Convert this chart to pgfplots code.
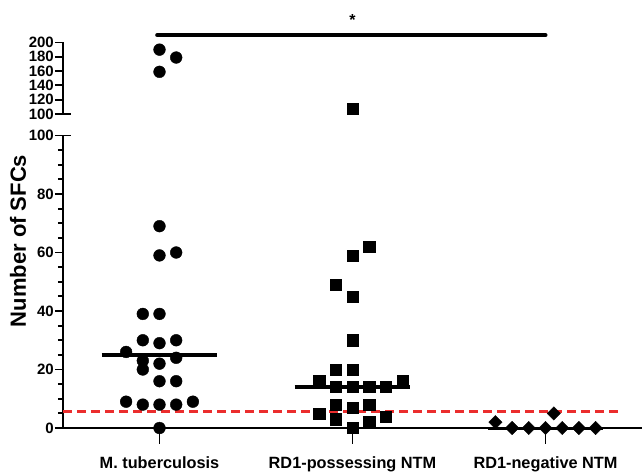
\documentclass[border=0pt]{standalone}
\usepackage{fontspec}
\setmainfont{Liberation Sans}
\usepackage{pgfplots}
\pgfplotsset{compat=1.18}
\definecolor{dashred}{RGB}{235,45,45}
\pgfplotsset{
  common/.style={
    scale only axis, width=579pt, xmin=-0.5, xmax=2.5, clip=false,
    axis line style={line width=2pt, black},
    every tick/.style={line width=1.8pt, black},
    tick align=outside,
    major tick length=8pt, minor tick length=5pt,
    /pgf/number format/assume math mode=true,
    yticklabel style={font=\fontsize{15}{18}\selectfont\bfseries, inner sep=1pt},
    xticklabel style={font=\fontsize{16.3}{19}\selectfont\bfseries, yshift=-17pt},
    extra y tick style={tick align=center, major tick length=15pt},
  },
  circ/.style={only marks, mark=*, mark size=5.9pt, black},
  sq/.style={only marks, mark=square*, mark size=5.6pt, black},
  dia/.style={only marks, mark=square*, mark size=4.7pt, mark options={rotate=45}, black},
}
\begin{document}
\begin{tikzpicture}
\useasboundingbox (-63pt,-44pt) rectangle (579pt,428pt);
% lower segment
\begin{axis}[common, at={(0pt,0pt)}, anchor=south west, height=292.5pt,
  ymin=0, ymax=100, axis x line*=bottom, axis y line*=left,
  ytick={0,20,...,100}, minor y tick num=3,
  extra y ticks={100}, extra y tick labels={},
  xtick={0,1,2},
  xticklabels={M. tuberculosis, RD1-possessing NTM, RD1-negative NTM},
  xtick style={draw=none},
]
\addplot[circ] coordinates {
(0,69) (0,59) (0.0865,60) (-0.0865,39) (0,39) (-0.0865,30) (0,29) (0.0865,30)
(-0.173,26) (-0.0865,23) (0.0865,24) (-0.0865,20) (0,22) (0,16) (0.0865,16)
(-0.173,9) (0.173,9) (-0.0865,8) (0,8) (0.0865,8) (0,0)};
\addplot[sq] coordinates {
(1.0865,62) (1,59) (0.9135,49) (1,45) (1,30) (0.9135,20) (1,20) (0.827,16) (1.2595,16)
(0.9135,14) (1,14) (1.0865,14) (1.173,14) (0.9135,8) (1,7) (1.0865,8) (0.827,5)
(0.9135,3) (1.0865,2) (1.173,4) (1,0)};
\addplot[dia] coordinates {
(1.7405,2) (1.827,0) (1.9135,0) (2,0) (2.0865,0) (2.173,0) (2.2595,0) (2.043,5)};
\addplot[black, line width=3.5pt] coordinates {(-0.3,25) (0.3,25)};
\addplot[black, line width=3.5pt] coordinates {(0.7,14) (1.3,14)};
\addplot[black, line width=3pt] coordinates {(1.7,0) (2.3,0)};
\addplot[dashred, line width=2.5pt, dash pattern=on 9pt off 5pt] coordinates {(-0.5,5.6) (2.385,5.6)};
\draw[line width=1.8pt] (axis cs:0,0) -- ++(0pt,-16pt);
\draw[line width=1.8pt] (axis cs:1,0) -- ++(0pt,-16pt);
\draw[line width=1.8pt] (axis cs:2,0) -- ++(0pt,-16pt);
\end{axis}
% upper segment
\begin{axis}[common, at={(0pt,314pt)}, anchor=south west, height=71.5pt,
  ymin=100, ymax=200, axis x line=none, axis y line*=left,
  ytick={100,120,...,200},
  extra y ticks={100}, extra y tick labels={},
]
\addplot[circ] coordinates {(0,190) (0.0865,179) (0,159)};
\addplot[sq] coordinates {(1,107)};
\addplot[black, line width=4pt, line cap=round] coordinates {(-0.012,210.3) (2.0,210.3)};
\node[font=\fontsize{16}{19}\selectfont\bfseries, anchor=base] at (axis cs:1,223.5) {*};
\end{axis}
\node[rotate=90, font=\fontsize{22}{26}\selectfont\bfseries] at (-45pt,187pt) {Number of SFCs};
\end{tikzpicture}
\end{document}
